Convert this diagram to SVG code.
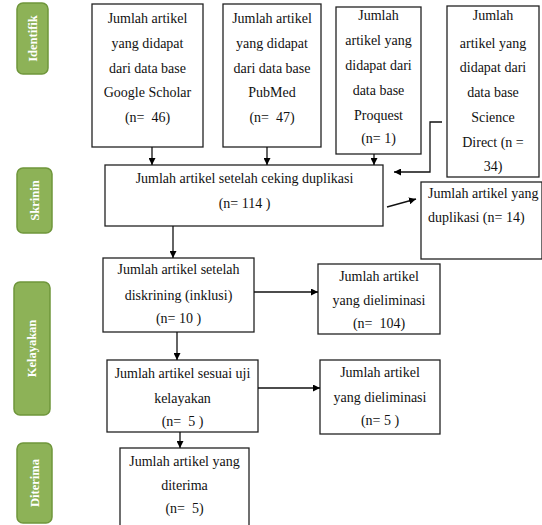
<svg xmlns="http://www.w3.org/2000/svg" width="542" height="525" viewBox="0 0 542 525">
<defs>
<marker id="ah" viewBox="0 0 10 10" refX="10" refY="5" markerWidth="7" markerHeight="7" markerUnits="userSpaceOnUse" orient="auto">
<path d="M0,0 L10,5 L0,10 z" fill="#000"/>
</marker>
</defs>
<style>
.box{fill:#fff;stroke:#222;stroke-width:1.3}
text{font-family:'Liberation Serif','Times New Roman','DejaVu Serif',serif}
.t{font-size:14px;fill:#111;text-anchor:middle}
.tl{text-anchor:start}
.pill{fill:#8db257;stroke:#6f963b;stroke-width:1.5}
.pt{font-size:12.5px;font-weight:bold;fill:#fff;text-anchor:middle}
.c{fill:none;stroke:#111;stroke-width:1.3}
</style>
<rect width="542" height="525" fill="#fff"/>

<g id="stage-identifik"><rect class="pill" x="17" y="3" width="31" height="71" rx="6"/><text class="pt" transform="translate(36.5,38.5) rotate(-90)">Identifik</text></g>
<g id="stage-skrinin"><rect class="pill" x="17" y="168" width="35" height="65" rx="6"/><text class="pt" transform="translate(38.5,200.5) rotate(-90)">Skrinin</text></g>
<g id="stage-kelayakan"><rect class="pill" x="14" y="282" width="36" height="133" rx="6"/><text class="pt" transform="translate(36,348.5) rotate(-90)">Kelayakan</text></g>
<g id="stage-diterima"><rect class="pill" x="17" y="443" width="35" height="80" rx="6"/><text class="pt" transform="translate(38.5,483) rotate(-90)">Diterima</text></g>

<g id="n-scholar"><rect class="box" x="92" y="4" width="111" height="143"/>
<text class="t" x="147.5" y="22.5">Jumlah artikel</text><text class="t" x="147.5" y="47.5">yang didapat</text><text class="t" x="147.5" y="72.5">dari data base</text><text class="t" x="147.5" y="96.5">Google Scholar</text><text class="t" x="147.5" y="121.5" xml:space="preserve">(n=  46)</text></g>

<g id="n-pubmed"><rect class="box" x="223" y="4" width="98" height="143"/>
<text class="t" x="272" y="22.5">Jumlah artikel</text><text class="t" x="272" y="47.5">yang didapat</text><text class="t" x="272" y="72.5">dari data base</text><text class="t" x="272" y="96.5">PubMed</text><text class="t" x="272" y="121.5" xml:space="preserve">(n=  47)</text></g>

<g id="n-proquest"><rect class="box" x="336" y="7" width="85" height="147"/>
<text class="t" x="378.5" y="20">Jumlah</text><text class="t" x="378.5" y="45">artikel yang</text><text class="t" x="378.5" y="70">didapat dari</text><text class="t" x="378.5" y="95">data base</text><text class="t" x="378.5" y="120">Proquest</text><text class="t" x="378.5" y="143">(n= 1)</text></g>

<g id="n-sciencedirect"><rect class="box" x="447" y="6" width="92" height="171"/>
<text class="t" x="493" y="20">Jumlah</text><text class="t" x="493" y="47.5">artikel yang</text><text class="t" x="493" y="72">didapat dari</text><text class="t" x="493" y="97">data base</text><text class="t" x="493" y="122">Science</text><text class="t" x="493" y="147">Direct (n =</text><text class="t" x="493" y="171">34)</text></g>

<g id="n-skrinin"><rect class="box" x="105" y="165" width="278" height="61"/>
<text class="t" x="244.5" y="183">Jumlah artikel setelah ceking duplikasi</text><text class="t" x="244.5" y="208">(n= 114 )</text></g>

<g id="n-duplikasi"><rect class="box" x="421" y="182" width="121" height="77"/>
<text class="t tl" x="428" y="198">Jumlah artikel yang</text><text class="t tl" x="428" y="222">duplikasi (n= 14)</text></g>

<g id="n-skrining"><rect class="box" x="103" y="258" width="151" height="74"/>
<text class="t" x="178.5" y="274">Jumlah artikel setelah</text><text class="t" x="178.5" y="300">diskrining (inklusi)</text><text class="t" x="178.5" y="323">(n= 10 )</text></g>

<g id="n-eliminasi1"><rect class="box" x="318" y="264" width="122" height="70"/>
<text class="t" x="379" y="281">Jumlah artikel</text><text class="t" x="379" y="305">yang dieliminasi</text><text class="t" x="379" y="328" xml:space="preserve">(n=  104)</text></g>

<g id="n-kelayakan"><rect class="box" x="107" y="360" width="151" height="72"/>
<text class="t" x="182.5" y="378">Jumlah artikel sesuai uji</text><text class="t" x="182.5" y="403">kelayakan</text><text class="t" x="182.5" y="426" xml:space="preserve">(n=  5 )</text></g>

<g id="n-eliminasi2"><rect class="box" x="320" y="360" width="120" height="74"/>
<text class="t" x="380" y="377">Jumlah artikel</text><text class="t" x="380" y="402">yang dieliminasi</text><text class="t" x="380" y="425">(n= 5 )</text></g>

<g id="n-diterima"><rect class="box" x="120" y="448" width="129" height="90"/>
<text class="t" x="184.5" y="466">Jumlah artikel yang</text><text class="t" x="184.5" y="490">diterima</text><text class="t" x="184.5" y="513" xml:space="preserve">(n=  5)</text></g>

<g id="connectors">
<path class="c" d="M152,147 V165" marker-end="url(#ah)"/>
<path class="c" d="M267,147 V165" marker-end="url(#ah)"/>
<path class="c" d="M374,154 V165" marker-end="url(#ah)"/>
<path class="c" d="M442,122 H430 V172 H394" marker-end="url(#ah)"/>
<path class="c" d="M387,207 L416,199" marker-end="url(#ah)"/>
<path class="c" d="M173,226 V258" marker-end="url(#ah)"/>
<path class="c" d="M254,292 H318" marker-end="url(#ah)"/>
<path class="c" d="M177,332 V360" marker-end="url(#ah)"/>
<path class="c" d="M258,388 H320" marker-end="url(#ah)"/>
<path class="c" d="M180,432 V448" marker-end="url(#ah)"/>
</g>
</svg>
